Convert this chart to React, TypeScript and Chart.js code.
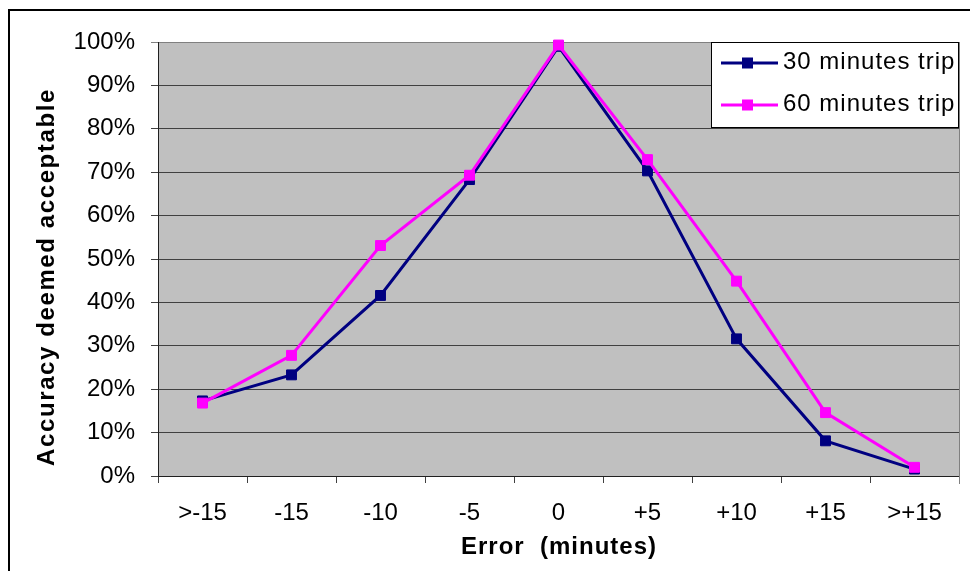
import React, { useEffect, useRef } from "react";
import { Chart, registerables } from "chart.js";

Chart.register(...registerables);

const categories = [">-15", "-15", "-10", "-5", "0", "+5", "+10", "+15", ">+15"];
const trip30 = [0.173, 0.233, 0.416, 0.683, 0.99, 0.703, 0.316, 0.081, 0.016];
const trip60 = [0.168, 0.278, 0.531, 0.693, 0.993, 0.729, 0.449, 0.146, 0.02];
const seriesNames = ["30 minutes trip", "60 minutes trip"];
const seriesColors = ["#000080", "#FF00FF"];
const yTickLabels = ["0%", "10%", "20%", "30%", "40%", "50%", "60%", "70%", "80%", "90%", "100%"];
const xTitle = "Error  (minutes)";
const yTitle = "Accuracy deemed acceptable";

const FONT = "'Liberation Sans', Arial, sans-serif";

const decorPlugin = {
  id: "decor",
  beforeDraw(chart: any) {
    const { ctx, chartArea } = chart;
    ctx.save();
    ctx.fillStyle = "#ffffff";
    ctx.fillRect(0, 0, chart.width, chart.height);
    // outer frame
    ctx.strokeStyle = "#000000";
    ctx.lineWidth = 2;
    ctx.beginPath();
    ctx.moveTo(9, chart.height + 2);
    ctx.lineTo(9, 10);
    ctx.lineTo(970, 10);
    ctx.stroke();
    // plot background
    ctx.fillStyle = "#C0C0C0";
    ctx.fillRect(chartArea.left, chartArea.top, chartArea.right - chartArea.left, chartArea.bottom - chartArea.top);
    ctx.restore();
  },
  afterDatasetsDraw(chart: any) {
    const { ctx, chartArea } = chart;
    ctx.save();
    // right border of plot
    ctx.strokeStyle = "#808080";
    ctx.lineWidth = 1;
    ctx.beginPath();
    ctx.moveTo(chartArea.right + 0.5, chartArea.top);
    ctx.lineTo(chartArea.right + 0.5, chartArea.bottom + 8);
    ctx.stroke();

    // legend
    const lx = 711, ly = 42, lw = 247, lh = 85;
    ctx.fillStyle = "#ffffff";
    ctx.fillRect(lx, ly, lw, lh);
    ctx.strokeStyle = "#000000";
    ctx.lineWidth = 1;
    ctx.strokeRect(lx + 0.5, ly + 0.5, lw, lh);
    const rows = [63, 105];
    chart.data.datasets.forEach((ds: any, i: number) => {
      const y = rows[i];
      ctx.strokeStyle = ds.borderColor;
      ctx.lineWidth = 3;
      ctx.beginPath();
      ctx.moveTo(721, y);
      ctx.lineTo(778, y);
      ctx.stroke();
      ctx.fillStyle = ds.borderColor;
      ctx.fillRect(742, y - 5.5, 11, 11);
      ctx.fillStyle = "#000000";
      ctx.font = `24px ${FONT}`;
      (ctx as any).letterSpacing = "1px";
      ctx.textAlign = "left";
      ctx.textBaseline = "middle";
      ctx.fillText(ds.label, 783, y - 1);
    });

    // axis titles
    ctx.fillStyle = "#000000";
    ctx.font = `bold 24px ${FONT}`;
    (ctx as any).letterSpacing = "1px";
    ctx.textAlign = "center";
    ctx.textBaseline = "middle";
    ctx.fillText(xTitle, 559, 547);
    (ctx as any).letterSpacing = "1.6px";
    ctx.translate(47, 277);
    ctx.rotate(-Math.PI / 2);
    ctx.fillText(yTitle, 0, 0);
    ctx.restore();
  },
};

export default function App() {
  const ref = useRef<HTMLCanvasElement>(null);
  useEffect(() => {
    if (!ref.current) return;
    const chart = new Chart(ref.current, {
      type: "line",
      data: {
        labels: categories,
        datasets: [
          {
            label: seriesNames[0],
            data: trip30,
            borderColor: seriesColors[0],
            backgroundColor: seriesColors[0],
            borderWidth: 3,
            pointStyle: "rect",
            pointRadius: 7,
            pointBorderWidth: 1,
            tension: 0,
            clip: false as any,
            order: 1,
          },
          {
            label: seriesNames[1],
            data: trip60,
            borderColor: seriesColors[1],
            backgroundColor: seriesColors[1],
            borderWidth: 3,
            pointStyle: "rect",
            pointRadius: 7,
            pointBorderWidth: 1,
            tension: 0,
            clip: false as any,
            order: 0,
          },
        ],
      },
      options: {
        responsive: false,
        animation: false,
        layout: { padding: { top: 42, right: 17, left: 0, bottom: 0 } },
        plugins: { legend: { display: false }, tooltip: { enabled: false } },
        scales: {
          x: {
            type: "category",
            offset: true,
            afterFit: (s: any) => { s.height = 95; },
            grid: {
              offset: true,
              drawOnChartArea: false,
              drawTicks: true,
              tickLength: 7,
              color: "#404040",
            },
            border: { display: true, color: "#202020", width: 1 },
            ticks: {
              color: "#000000",
              padding: 16,
              maxRotation: 0,
              autoSkip: false,
              font: { family: FONT, size: 24 },
            },
          },
          y: {
            min: 0,
            max: 1,
            afterFit: (s: any) => { s.width = 158; },
            grid: {
              color: (c: any) => (c.tick && c.tick.value >= 0.999 ? "#808080" : "#404040"),
              tickLength: 7,
              lineWidth: 1,
            },
            border: { display: true, color: "#202020", width: 1 },
            ticks: {
              stepSize: 0.1,
              padding: 16,
              color: "#000000",
              font: { family: FONT, size: 24 },
              callback: (_v: any, i: number) => yTickLabels[i],
            },
          },
        },
      },
      plugins: [decorPlugin],
    });
    return () => chart.destroy();
  }, []);
  return (
    <div style={{ position: "fixed", left: 0, top: 0, width: 976, height: 571 }}>
      <canvas ref={ref} width={976} height={571} style={{ display: "block", width: 976, height: 571 }} />
    </div>
  );
}
